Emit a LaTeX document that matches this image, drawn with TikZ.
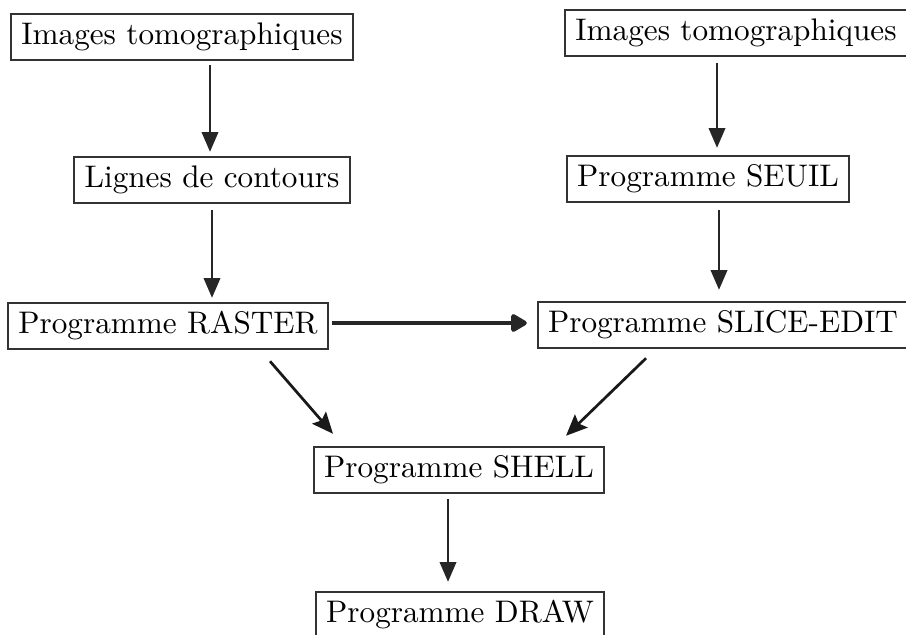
\documentclass[tikz,border=0pt]{standalone}
\usepackage{xcolor}
\usepackage{tikz}
\usetikzlibrary{positioning,arrows.meta,calc}

\begin{document}
\begin{tikzpicture}[
  x=0.33pt, y=-0.33pt,
  box/.style={draw=black!80, line width=0.6pt, font=\fontsize{10.3}{12}\selectfont,
              inner xsep=3.4pt, inner ysep=0pt, minimum height=15.4pt,
              text height=7pt, text depth=2pt},
  arrow/.style={-{Triangle[length=6.5pt,width=5.5pt]}, line width=0.5pt, black!85},
  diag/.style={-{Stealth[length=7pt,width=6pt,inset=1.2pt]}, line width=0.9pt, black!90},
  thickarrow/.style={-{Triangle[round,length=6pt,width=6.5pt]}, line width=1.6pt, black!85},
]
\useasboundingbox (0,0) rectangle (906,634);

\node[box] (imgA)   at (182,37)  {Images tomographiques};
\node[box] (lignes) at (212,180) {Lignes de contours};
\node[box] (raster) at (168,326) {Programme RASTER};
\node[box] (imgB)   at (736,33)  {Images tomographiques};
\node[box] (seuil)  at (708,179) {Programme SEUIL};
\node[box] (slice)  at (723,325) {Programme SLICE-EDIT};
\node[box] (shell)  at (459,470) {Programme SHELL};
\node[box] (draw)   at (460,615) {Programme DRAW};

% left column
\draw[arrow] ($(imgA.south -| lignes.north)+(-2,4)$) -- ($(lignes.north)+(-2,-4)$);
\draw[arrow] ($(lignes.south)+(0,6)$) -- ($(lignes.south |- raster.north)+(0,-4)$);
% right column
\draw[arrow] ($(imgB.south -| seuil.north)+(9,6)$) -- ($(seuil.north)+(9,-7)$);
\draw[arrow] ($(seuil.south -| slice.north)+(-4,7)$) -- ($(slice.north)+(-4,-11)$);

\draw[thickarrow] ($(raster.east)+(3,-3)$) -- ($(slice.west)+(-10,-2)$);

\draw[diag] ($(raster.south)+(102,11)$) -- ($(shell.north)+(-126,-12)$);
\draw[diag] ($(slice.south)+(-77,9)$) -- ($(shell.north)+(107,-10)$);

\draw[arrow] ($(shell.south)+(-11,5)$) -- ($(draw.north)+(-12,-9)$);

\end{tikzpicture}
\end{document}
